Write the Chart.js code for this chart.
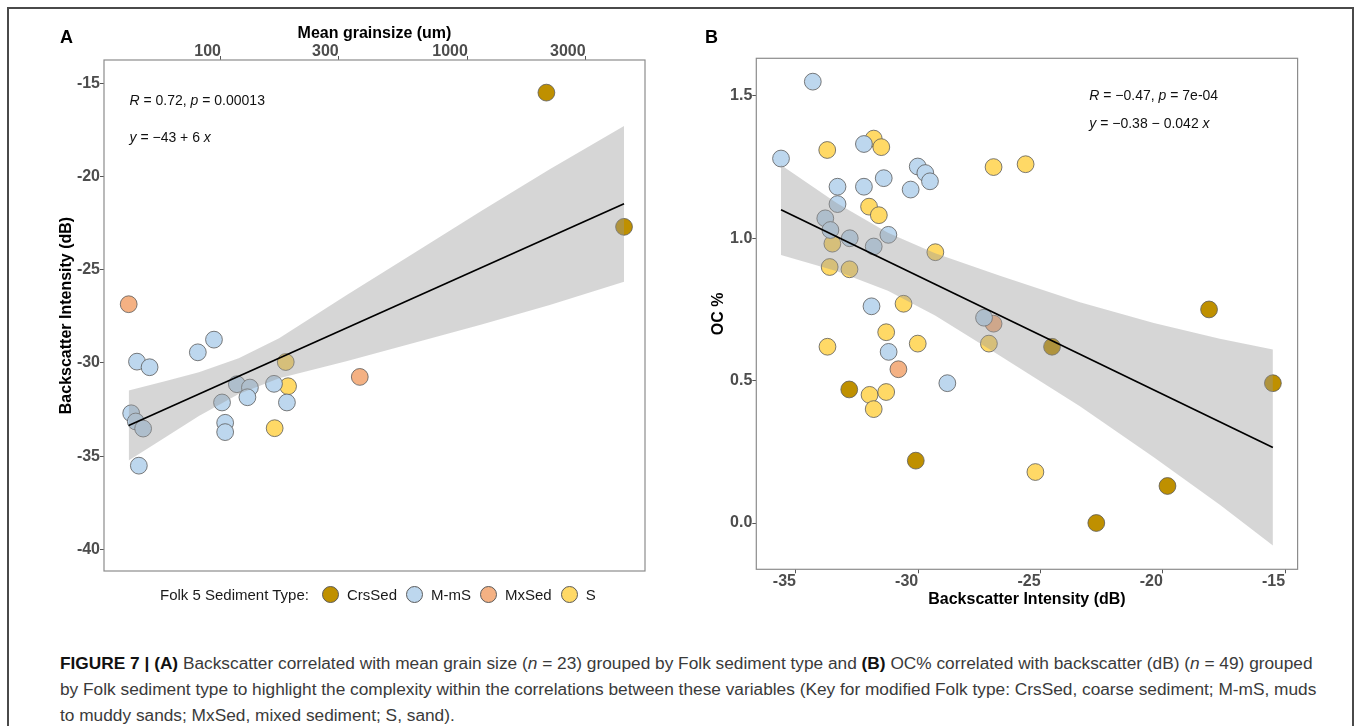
<!DOCTYPE html>
<html>
<head>
<meta charset="utf-8">
<title>Figure 7</title>
<script src="https://cdn.jsdelivr.net/npm/chart.js@4.4.1/dist/chart.umd.min.js"></script>
<style>
	html, body { margin: 0; padding: 0; background: #fff; }
	body { width: 1357px; height: 726px; overflow: hidden; position: relative; font-family: "Liberation Sans", Arial, sans-serif; }
	#rahmen { position: absolute; left: 7px; top: 7px; width: 1343px; height: 800px; border: 2px solid #4a4a4a; }
	.panel { position: absolute; top: 0; }
	#panelA { left: 0; width: 690px; height: 620px; }
	#panelB { left: 680px; width: 677px; height: 620px; }
	#legende { position: absolute; left: 160px; top: 584px; height: 21px; display: flex; align-items: center; font-size: 15px; color: #1a1a1a; white-space: nowrap; }
	#legende .titel { margin-right: 13px; }
	#legende .kreis { width: 17px; height: 17px; border-radius: 50%; border: 0.8px solid #5a5a5a; box-sizing: border-box; margin-right: 8px; }
	#legende .name { margin-right: 9px; }
	#caption { position: absolute; left: 60px; top: 650px; font-size: 17.3px; line-height: 26px; color: #3a3a3a; white-space: nowrap; }
	#caption b { color: #111; }
</style>
</head>
<body>
<div id="rahmen"></div>
<div class="panel" id="panelA"><canvas id="chartA" width="690" height="620"></canvas></div>
<div class="panel" id="panelB"><canvas id="chartB" width="677" height="620"></canvas></div>
<div id="legende"></div>
<div id="caption">
	<div><b>FIGURE 7 | (A)</b> Backscatter correlated with mean grain size (<i>n</i> = 23) grouped by Folk sediment type and <b>(B)</b> OC% correlated with backscatter (dB) (<i>n</i> = 49) grouped</div>
	<div>by Folk sediment type to highlight the complexity within the correlations between these variables (Key for modified Folk type: CrsSed, coarse sediment; M-mS, muds</div>
	<div>to muddy sands; MxSed, mixed sediment; S, sand).</div>
</div>
<script>
// Kategorien (Folk 5)
const folkTypes = ["CrsSed", "M-mS", "MxSed", "S"];

// Panel A: mittlere Korngröße (um) und Backscatter (dB)
const aCrsSedGrain = [2080, 4290];
const aCrsSedBack = [-15.5, -22.7];
const aMmSGrain = [93.7, 80.6, 45.7, 51.4, 116, 131, 164, 128, 101, 185, 43.3, 45.2, 48.4, 104, 104, 46.5];
const aMmSBack = [-28.75, -29.43, -29.93, -30.23, -31.14, -31.32, -31.12, -31.84, -32.12, -32.12, -32.7, -33.14, -33.52, -33.21, -33.71, -35.51];
const aMxSedGrain = [42.3, 365];
const aMxSedBack = [-26.85, -30.75];
const aSGrain = [183, 187, 165];
const aSBack = [-29.95, -31.25, -33.5];

// Panel A: Regressionsgerade und Konfidenzband
const aFitGrain = [42.3, 59.8, 81.4, 118, 172, 322, 608, 1137, 2146, 4290];
const aFitUpper = [-31.48, -30.97, -30.5, -29.75, -28.67, -26.37, -24.09, -21.83, -19.61, -17.29];
const aFitLower = [-35.23, -33.97, -32.85, -31.67, -30.82, -29.91, -28.91, -27.94, -26.89, -25.64];
const aLineGrain = [42.3, 4290];
const aLineBack = [-33.36, -21.46];

// Panel B: Backscatter (dB) und OC %
const bCrsSedBack = [-18.11, -24.53, -32.82, -15.5, -30.1, -19.81, -22.72];
const bCrsSedOC = [0.75, 0.619, 0.469, 0.491, 0.219, 0.13, 0.0];
const bMmSBack = [-34.31, -35.61, -32.22, -30.02, -29.71, -29.52, -30.31, -31.41, -32.22, -33.3, -33.3, -33.8, -33.59, -32.8, -31.82, -31.22, -31.91, -27.31, -31.21, -28.81];
const bMmSOC = [1.55, 1.28, 1.331, 1.252, 1.229, 1.2, 1.171, 1.211, 1.181, 1.181, 1.12, 1.07, 1.029, 1.0, 0.971, 1.012, 0.761, 0.721, 0.601, 0.491];
const bMxSedBack = [-26.92, -30.81];
const bMxSedOC = [0.7, 0.54];
const bSBack = [-33.72, -31.82, -31.51, -26.92, -25.61, -32.01, -31.61, -33.51, -33.62, -32.81, -29.3, -30.6, -31.31, -33.71, -30.02, -27.11, -31.99, -31.31, -31.82, -25.21];
const bSOC = [1.31, 1.35, 1.32, 1.25, 1.26, 1.111, 1.081, 0.981, 0.899, 0.891, 0.951, 0.77, 0.67, 0.619, 0.63, 0.63, 0.45, 0.46, 0.4, 0.179];

// Panel B: Regressionsgerade und Konfidenzband
const bFitBack = [-35.61, -33.32, -31.24, -29.31, -26.66, -23.39, -20.37, -17.67, -15.5];
const bFitUpper = [1.257, 1.123, 1.019, 0.947, 0.868, 0.775, 0.702, 0.647, 0.609];
const bFitLower = [0.941, 0.884, 0.816, 0.729, 0.587, 0.41, 0.231, 0.064, -0.079];
const bLineBack = [-35.61, -15.5];
const bLineOC = [1.1, 0.265];

// Achsenticks
const aGrainTicks = [100, 300, 1000, 3000];
const aBackTicks = [-40, -35, -30, -25, -20, -15];
const bBackTicks = [-35, -30, -25, -20, -15];
const bOCTicks = [0, 0.5, 1, 1.5];

// Farben
const folkColors = { "CrsSed": "#BF9000", "M-mS": "#BDD7EE", "MxSed": "#F4B183", "S": "#FFD966" };
const schrift = "'Liberation Sans', Arial, Helvetica, sans-serif";

Chart.defaults.font.family = schrift;

function punkte(xs, ys) {
	return xs.map((x, i) => ({ x: x, y: ys[i] }));
}

function punktSerie(label, xs, ys) {
	return {
		type: "scatter",
		label: label,
		data: punkte(xs, ys),
		backgroundColor: folkColors[label],
		borderColor: "#5a5a5a",
		borderWidth: 0.8,
		pointRadius: 8.4,
		order: 3
	};
}

function band(xs, oben, unten) {
	return [
		{ type: "line", data: punkte(xs, oben), borderWidth: 0, borderColor: "rgba(0,0,0,0)", pointRadius: 0, tension: 0, fill: "+1", backgroundColor: "rgba(153,153,153,0.4)", order: 2 },
		{ type: "line", data: punkte(xs, unten), borderWidth: 0, borderColor: "rgba(0,0,0,0)", pointRadius: 0, tension: 0, fill: false, order: 2 }
	];
}

function gerade(xs, ys) {
	return { type: "line", data: punkte(xs, ys), borderColor: "#000", borderWidth: 1.7, pointRadius: 0, tension: 0, fill: false, order: 1 };
}

function tickStil(padding, align) {
	return {
		color: "#4d4d4d",
		font: { size: 16, weight: "bold" },
		padding: padding,
		align: align || "center",
		autoSkip: false,
		maxRotation: 0
	};
}

const gitter = { display: true, drawOnChartArea: false, drawTicks: true, tickLength: 4, color: "#555", lineWidth: 1 };

// Rahmen, Panelbuchstabe und Statistiktext
const beschriftung = {
	id: "beschriftung",
	afterDatasetsDraw(chart, args, opts) {
		const ctx = chart.ctx;
		const a = chart.chartArea;
		ctx.save();
		ctx.strokeStyle = "#8c8c8c";
		ctx.lineWidth = 1.2;
		ctx.strokeRect(a.left, a.top, a.right - a.left, a.bottom - a.top);

		ctx.fillStyle = "#000";
		ctx.textBaseline = "alphabetic";
		ctx.textAlign = "left";
		ctx.font = "bold 18px " + schrift;
		ctx.fillText(opts.buchstabe, opts.bx, opts.by);

		ctx.fillStyle = "#111";
		opts.zeilen.forEach(zeile => {
			let x = a.left + opts.tx;
			zeile.teile.forEach(([txt, kursiv]) => {
				ctx.font = (kursiv ? "italic " : "") + "14px " + schrift;
				ctx.fillText(txt, x, a.top + zeile.y);
				x += ctx.measureText(txt).width;
			});
		});
		ctx.restore();
	}
};

// Panel A
new Chart(document.getElementById("chartA"), {
	type: "scatter",
	data: {
		datasets: [
			gerade(aLineGrain, aLineBack),
			...band(aFitGrain, aFitUpper, aFitLower),
			punktSerie("CrsSed", aCrsSedGrain, aCrsSedBack),
			punktSerie("M-mS", aMmSGrain, aMmSBack),
			punktSerie("MxSed", aMxSedGrain, aMxSedBack),
			punktSerie("S", aSGrain, aSBack)
		]
	},
	options: {
		responsive: false,
		animation: false,
		events: [],
		layout: { padding: { left: 0, top: 0, right: 45, bottom: 49 } },
		plugins: {
			legend: { display: false },
			tooltip: { enabled: false },
			beschriftung: {
				buchstabe: "A", bx: 60, by: 43, tx: 25.5,
				zeilen: [
					{ y: 45, teile: [["R", true], [" = 0.72, ", false], ["p", true], [" = 0.00013", false]] },
					{ y: 82, teile: [["y", true], [" = \u221243 + 6 ", false], ["x", true]] }
				]
			}
		},
		scales: {
			x: {
				type: "logarithmic",
				position: "top",
				bounds: "data",
				min: 33.6,
				max: 5217,
				afterBuildTicks: s => { s.ticks = aGrainTicks.map(v => ({ value: v })); },
				afterFit: s => { s.height = 60; },
				ticks: Object.assign(tickStil(-5, "end"), { callback: v => String(v) }),
				grid: gitter,
				border: { display: false },
				title: { display: true, text: "Mean grainsize (um)", color: "#000", font: { size: 16, weight: "bold" }, padding: { top: 24, bottom: 0 } }
			},
			y: {
				type: "linear",
				bounds: "data",
				min: -41.16,
				max: -13.75,
				afterBuildTicks: s => { s.ticks = aBackTicks.map(v => ({ value: v })); },
				afterFit: s => { s.width = 104; },
				ticks: Object.assign(tickStil(0), { callback: v => String(v) }),
				grid: gitter,
				border: { display: false },
				title: { display: true, text: "Backscatter Intensity (dB)", color: "#000", font: { size: 16, weight: "bold" }, padding: { top: 57, bottom: 0 } }
			}
		}
	},
	plugins: [beschriftung]
});

// Panel B
new Chart(document.getElementById("chartB"), {
	type: "scatter",
	data: {
		datasets: [
			gerade(bLineBack, bLineOC),
			...band(bFitBack, bFitUpper, bFitLower),
			punktSerie("CrsSed", bCrsSedBack, bCrsSedOC),
			punktSerie("M-mS", bMmSBack, bMmSOC),
			punktSerie("MxSed", bMxSedBack, bMxSedOC),
			punktSerie("S", bSBack, bSOC)
		]
	},
	options: {
		responsive: false,
		animation: false,
		events: [],
		layout: { padding: { left: 0, top: 58.3, right: 59.4, bottom: 0 } },
		plugins: {
			legend: { display: false },
			tooltip: { enabled: false },
			beschriftung: {
				buchstabe: "B", bx: 25, by: 43, tx: 333,
				zeilen: [
					{ y: 41.7, teile: [["R", true], [" = \u22120.47, ", false], ["p", true], [" = 7e-04", false]] },
					{ y: 69.7, teile: [["y", true], [" = \u22120.38 \u2212 0.042 ", false], ["x", true]] }
				]
			}
		},
		scales: {
			x: {
				type: "linear",
				position: "bottom",
				bounds: "data",
				min: -36.62,
				max: -14.49,
				afterBuildTicks: s => { s.ticks = bBackTicks.map(v => ({ value: v })); },
				afterFit: s => { s.height = 50.7; },
				ticks: Object.assign(tickStil(-1, "end"), { callback: v => String(v) }),
				grid: gitter,
				border: { display: false },
				title: { display: true, text: "Backscatter Intensity (dB)", color: "#000", font: { size: 16, weight: "bold" }, padding: { top: 0, bottom: 10.6 } }
			},
			y: {
				type: "linear",
				bounds: "data",
				min: -0.1626,
				max: 1.632,
				afterBuildTicks: s => { s.ticks = bOCTicks.map(v => ({ value: v })); },
				afterFit: s => { s.width = 76.3; },
				ticks: Object.assign(tickStil(0), { callback: v => v.toFixed(1) }),
				grid: gitter,
				border: { display: false },
				title: { display: true, text: "OC %", color: "#000", font: { size: 16, weight: "bold" }, padding: { top: 29, bottom: 0 } }
			}
		}
	},
	plugins: [beschriftung]
});

// Legende unter Panel A
const legende = document.getElementById("legende");
const legTitel = document.createElement("span");
legTitel.className = "titel";
legTitel.textContent = "Folk 5 Sediment Type:";
legende.appendChild(legTitel);
folkTypes.forEach(typ => {
	const kreis = document.createElement("span");
	kreis.className = "kreis";
	kreis.style.background = folkColors[typ];
	const name = document.createElement("span");
	name.className = "name";
	name.textContent = typ;
	legende.appendChild(kreis);
	legende.appendChild(name);
});
</script>
</body>
</html>
